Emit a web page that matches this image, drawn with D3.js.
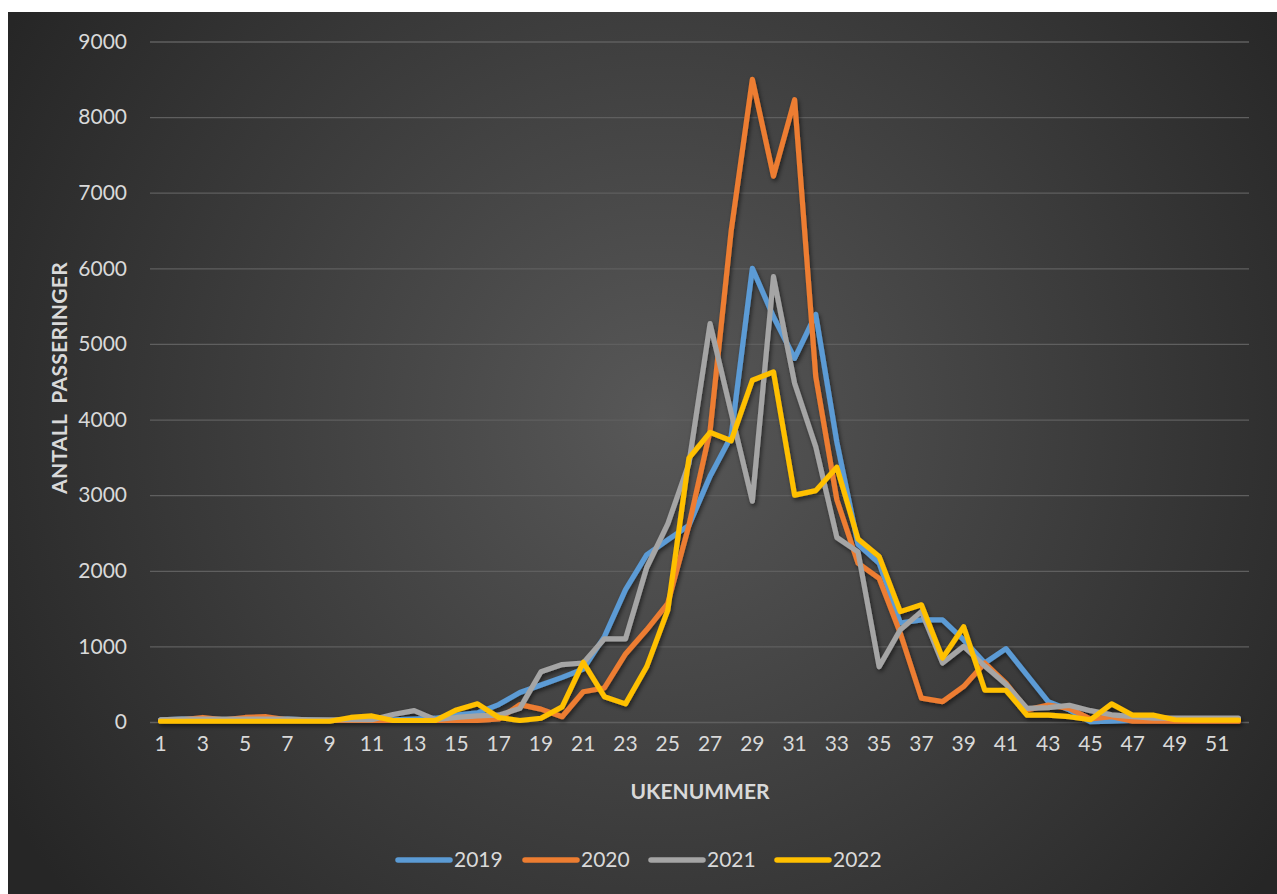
<!DOCTYPE html>
<html>
<head>
<meta charset="utf-8">
<script src="https://cdn.jsdelivr.net/npm/d3@7"></script>
<style>
  html, body { margin: 0; padding: 0; background: #ffffff; }
  svg { display: block; }
  text { font-family: Lato, "Open Sans", sans-serif; }
</style>
</head>
<body>
<svg id="chart" width="1277" height="894"></svg>
<script>
const weeks = d3.range(1, 53);
const yTicks = [0, 1000, 2000, 3000, 4000, 5000, 6000, 7000, 8000, 9000];
const xTickLabels = d3.range(1, 53, 2);
const seriesNames = ["2019", "2020", "2021", "2022"];
const colors = ["#5B9BD5", "#ED7D31", "#A5A5A5", "#FFC000"];

const v2019 = [30, 40, 40, 30, 40, 30, 40, 30, 20, 20, 30, 30, 40, 50, 90, 120, 230, 390, 490, 590,
  700, 1130, 1750, 2210, 2410, 2600, 3250, 3780, 6000, 5360, 4810, 5390, 3700, 2350, 2100, 1310,
  1350, 1350, 1085, 780, 970, 620, 270, 160, 5, 10, 20, 30, 30, 30, 40, 40];
const v2020 = [20, 30, 60, 30, 60, 70, 30, 20, 20, 20, 20, 20, 20, 20, 20, 20, 40, 230, 170, 70,
  400, 450, 900, 1220, 1570, 2600, 3850, 6500, 8500, 7220, 8230, 4570, 2940, 2100, 1900, 1175,
  315, 270, 470, 780, 515, 160, 225, 180, 40, 70, 10, 10, 10, 10, 10, 10];
const v2021 = [30, 40, 40, 40, 40, 40, 40, 30, 30, 30, 30, 100, 150, 30, 60, 80, 90, 180, 665, 760,
  780, 1100, 1100, 2040, 2620, 3420, 5270, 4090, 2920, 5890, 4480, 3640, 2440, 2250, 730, 1220,
  1460, 780, 1000, 740, 500, 180, 190, 220, 150, 95, 70, 50, 50, 50, 50, 50];
const v2022 = [10, 10, 10, 10, 10, 10, 10, 10, 10, 60, 80, 20, 20, 20, 160, 240, 60, 20, 50, 200,
  790, 335, 240, 730, 1480, 3490, 3830, 3720, 4520, 4630, 3000, 3060, 3370, 2420, 2190, 1460,
  1550, 845, 1260, 420, 420, 90, 90, 70, 30, 240, 90, 90, 30, 25, 25, 25];
const seriesValues = [v2019, v2020, v2021, v2022];

const svg = d3.select("#chart");
const W = 1277, H = 894;
const textColor = "#D9D9D9";

// background
const defs = svg.append("defs");
const grad = defs.append("radialGradient").attr("id", "bg")
  .attr("gradientUnits", "userSpaceOnUse")
  .attr("cx", 660).attr("cy", 420).attr("r", 760);
grad.append("stop").attr("offset", "0%").attr("stop-color", "#585858");
grad.append("stop").attr("offset", "100%").attr("stop-color", "#262626");

const shadow = defs.append("filter").attr("id", "shadow")
  .attr("x", "-10%").attr("y", "-10%").attr("width", "120%").attr("height", "120%");
shadow.append("feDropShadow").attr("dx", 1.5).attr("dy", 2.5).attr("stdDeviation", 2)
  .attr("flood-color", "#000").attr("flood-opacity", 0.55);

svg.append("rect").attr("x", 8).attr("y", 12).attr("width", W - 8).attr("height", H - 12)
  .attr("fill", "url(#bg)");

const plotLeft = 150, plotRight = 1249, plotTop = 41.5, plotBottom = 722;

const x = d3.scaleBand().domain(weeks).range([plotLeft, plotRight]);
const xc = w => x(w) + x.bandwidth() / 2;
const y = d3.scaleLinear().domain([0, 9000]).range([plotBottom, plotTop]);

// gridlines
const grid = svg.append("g").attr("transform", `translate(${plotLeft},0)`)
  .call(d3.axisLeft(y).tickValues(yTicks).tickSize(-(plotRight - plotLeft)).tickFormat(""));
grid.select(".domain").remove();
grid.selectAll(".tick line").attr("stroke", "#5f5f5f").attr("stroke-width", 1.3);

// y axis labels
const yAxis = svg.append("g").attr("transform", `translate(127,0)`)
  .call(d3.axisLeft(y).tickValues(yTicks).tickSize(0).tickPadding(0).tickFormat(d3.format("d")));
yAxis.select(".domain").remove();
yAxis.selectAll(".tick text").attr("fill", textColor).style("font-size", "21px")
  .style("font-family", "Lato, 'Open Sans', sans-serif");

// x axis labels
const xAxis = svg.append("g").attr("transform", `translate(0,${plotBottom})`)
  .call(d3.axisBottom(x).tickValues(xTickLabels).tickSize(0).tickPadding(14));
xAxis.select(".domain").remove();
xAxis.selectAll(".tick text").attr("fill", textColor).style("font-size", "21px")
  .style("font-family", "Lato, 'Open Sans', sans-serif");

// axis titles
svg.append("text").attr("x", 700).attr("y", 799).attr("text-anchor", "middle")
  .attr("fill", textColor).style("font-size", "21px").style("font-weight", "bold")
  .text("UKENUMMER");
svg.append("text").attr("transform", "translate(67,378) rotate(-90)").attr("text-anchor", "middle")
  .attr("fill", textColor).style("font-size", "21px").style("font-weight", "bold")
  .style("letter-spacing", "0.3px").style("white-space", "pre")
  .attr("xml:space", "preserve")
  .text("ANTALL  PASSERINGER");

// lines
const line = d3.line().x((d, i) => xc(weeks[i])).y(d => y(d));
const linesG = svg.append("g").attr("filter", "url(#shadow)");
seriesValues.forEach((vals, k) => {
  linesG.append("path").datum(vals)
    .attr("d", line)
    .attr("fill", "none")
    .attr("stroke", colors[k])
    .attr("stroke-width", 5.2)
    .attr("stroke-linejoin", "round")
    .attr("stroke-linecap", "round");
});

// legend
const legendX = [396, 523, 649, 775];
const legend = svg.append("g");
seriesNames.forEach((name, k) => {
  legend.append("line").attr("x1", legendX[k] + 2).attr("x2", legendX[k] + 54)
    .attr("y1", 860).attr("y2", 860)
    .attr("stroke", colors[k]).attr("stroke-width", 5.5).attr("stroke-linecap", "round");
  legend.append("text").attr("x", legendX[k] + 58).attr("y", 867)
    .attr("fill", textColor).style("font-size", "21px").text(name);
});
</script>
</body>
</html>
